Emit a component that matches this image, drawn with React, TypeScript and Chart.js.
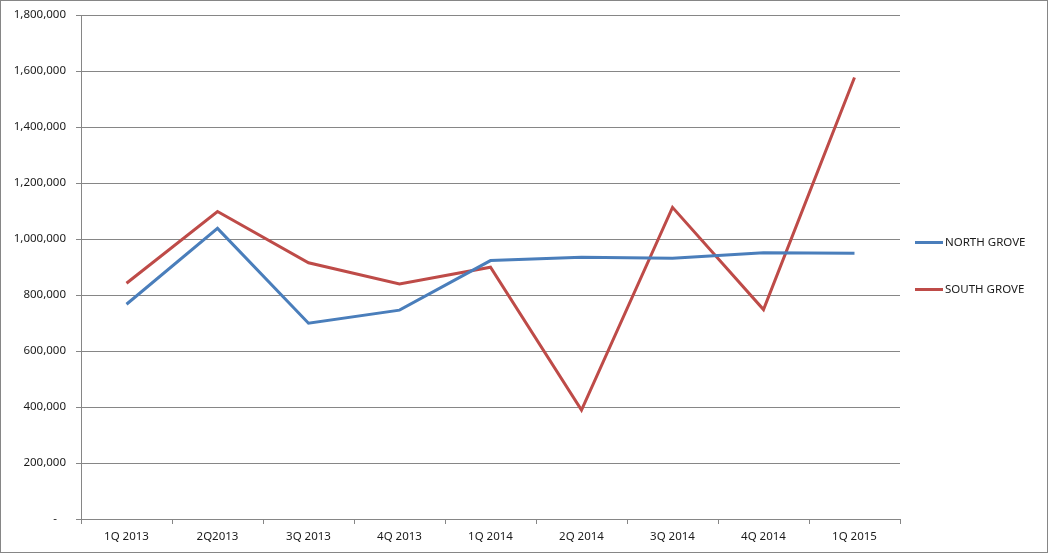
import React, { useEffect, useRef } from "react";
import { Chart, registerables } from "chart.js";

Chart.register(...registerables);

const categories = ["1Q 2013", "2Q2013", "3Q 2013", "4Q 2013", "1Q 2014", "2Q 2014", "3Q 2014", "4Q 2014", "1Q 2015"];
const northGrove = [767000, 1038000, 699000, 746000, 923000, 935000, 931000, 951000, 949000];
const southGrove = [842000, 1098000, 915000, 839000, 899000, 389000, 1113000, 748000, 1577000];
const seriesNames = ["NORTH GROVE", "SOUTH GROVE"];
const seriesColors = ["#4A7EBB", "#BE4B48"];
const yMin = 0;
const yMax = 1800000;
const yStep = 200000;

const FONT = "'Noto Sans', sans-serif";
const TEXT = "#1a1a1a";
const GRID = "#868686";

const legendPlugin = {
  id: "sideLegend",
  afterDraw(chart: any) {
    const { ctx, chartArea } = chart;
    const mid = (chartArea.top + chartArea.bottom) / 2 - 1;
    ctx.save();
    ctx.font = `11.5px ${FONT}`;
    ctx.textBaseline = "middle";
    ctx.textAlign = "left";
    chart.data.datasets.forEach((ds: any, i: number) => {
      const y = mid + (i - 0.5) * 47;
      const x0 = chartArea.right + 15;
      ctx.strokeStyle = ds.borderColor;
      ctx.lineWidth = 3;
      ctx.beginPath();
      ctx.moveTo(x0, y);
      ctx.lineTo(x0 + 28, y);
      ctx.stroke();
      ctx.fillStyle = TEXT;
      ctx.fillText(ds.label, x0 + 30, y + 0.5);
    });
    ctx.restore();
  },
};

export default function App() {
  const ref = useRef<HTMLCanvasElement>(null);
  useEffect(() => {
    document.body.style.margin = "0";
    if (!ref.current) return;
    const chart = new Chart(ref.current, {
      type: "line",
      data: {
        labels: categories,
        datasets: [
          { label: seriesNames[0], data: northGrove, borderColor: seriesColors[0], backgroundColor: seriesColors[0], borderWidth: 3, pointRadius: 0, tension: 0 },
          { label: seriesNames[1], data: southGrove, borderColor: seriesColors[1], backgroundColor: seriesColors[1], borderWidth: 3, pointRadius: 0, tension: 0 },
        ],
      },
      options: {
        responsive: false,
        animation: false,
        layout: { padding: { top: 14, bottom: 8, left: 0, right: 147 } },
        plugins: { legend: { display: false }, tooltip: { enabled: false } },
        scales: {
          x: {
            offset: true,
            grid: { offset: true, drawOnChartArea: false, drawTicks: true, tickLength: 5, color: GRID },
            border: { display: true, color: GRID, width: 1 },
            ticks: { font: { family: FONT, size: 11.5 }, color: TEXT, padding: 6, maxRotation: 0, autoSkip: false },
            afterFit: (s: any) => { s.height = 25; },
          },
          y: {
            min: yMin,
            max: yMax,
            grid: { color: GRID, tickLength: 5, drawTicks: true },
            border: { display: true, color: GRID, width: 1 },
            ticks: {
              stepSize: yStep,
              font: { family: FONT, size: 11.5 },
              color: TEXT,
              padding: 10,
              callback: (v: any) => (Number(v) === 0 ? "-   " : Number(v).toLocaleString("en-US")),
            },
            afterFit: (s: any) => { s.width = 80; s.paddingTop = 0; s.paddingBottom = 0; },
          },
        },
      },
      plugins: [legendPlugin],
    });
    return () => chart.destroy();
  }, []);
  return (
    <div style={{ position: "absolute", left: 0, top: 0, width: 1048, height: 553, boxSizing: "border-box", border: "1px solid #868686", background: "#fff" }}>
      <canvas ref={ref} width={1046} height={551} style={{ display: "block" }} />
    </div>
  );
}
